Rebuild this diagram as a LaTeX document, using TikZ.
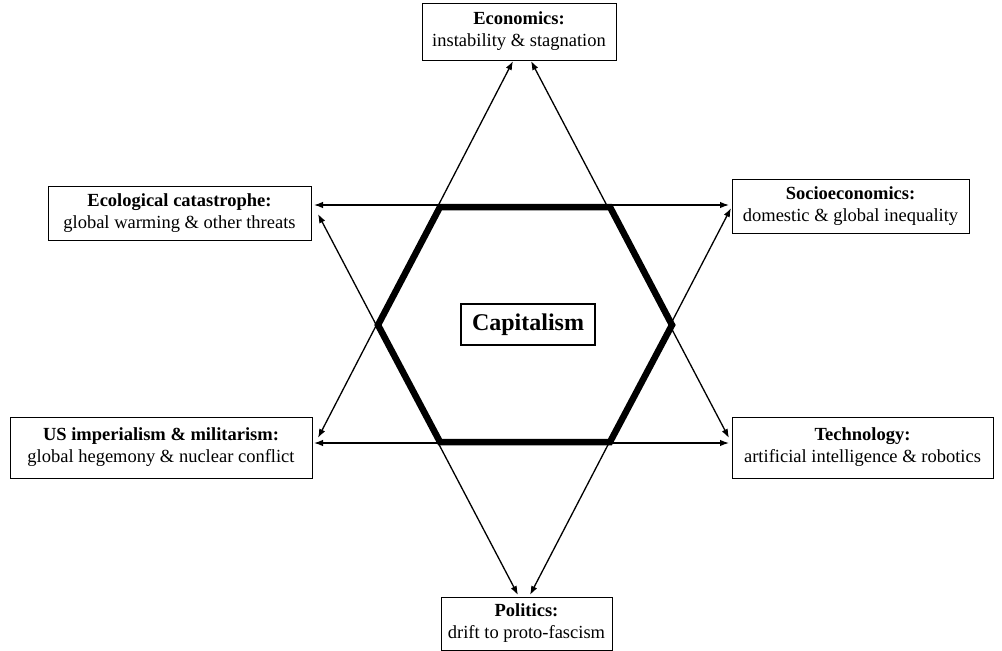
\documentclass[tikz,border=0pt]{standalone}
\usepackage{fontspec}
\setmainfont{Liberation Serif}
\usepackage{tikz}
\usetikzlibrary{arrows.meta}

\begin{document}
\begin{tikzpicture}[x=1pt,y=-1pt]
\tikzset{theme/.style = {shape=rectangle,draw,line width=0.8pt,align=center,inner sep=0pt,font=\fontsize{18.5}{22}\selectfont}}
\tikzset{link/.style = {line width=1.3pt, {Latex[length=9pt,width=6.5pt]}-{Latex[length=9pt,width=6.5pt]}}}
\useasboundingbox (0,0) rectangle (1002,651);
% hexagon
\coordinate (hTL) at (440,207);
\coordinate (hTR) at (610,207);
\coordinate (hR) at (672,325);
\coordinate (hBR) at (610,442);
\coordinate (hBL) at (440,442);
\coordinate (hL) at (378,325);
\draw[line width=6.5pt, line join=miter] (hTL) -- (hTR) -- (hR) -- (hBR) -- (hBL) -- (hL) -- cycle;
\node[draw, line width=2.8pt, minimum width=134pt, minimum height=41pt, inner sep=0pt, font=\fontsize{24}{28}\selectfont\bfseries] (cap) at (528,324.5) {Capitalism};
% themes
\node[theme, minimum width=194pt, minimum height=57pt] (econ) at (519,31.5) {\textbf{Economics:}\\instability \& stagnation};
\node[theme, minimum width=263pt, minimum height=54pt] (eco) at (179.5,213) {\textbf{Ecological catastrophe:}\\global warming \& other threats};
\node[theme, minimum width=237pt, minimum height=54pt] (socio) at (850.5,206) {\textbf{Socioeconomics:}\\domestic \& global inequality};
\node[theme, minimum width=302pt, minimum height=61pt] (us) at (161,447.5) {\textbf{US imperialism \& militarism:}\\global hegemony \& nuclear conflict};
\node[theme, minimum width=261pt, minimum height=61pt] (tech) at (862.5,447.5) {\textbf{Technology:}\\artificial intelligence \& robotics};
\node[theme, minimum width=171pt, minimum height=53pt] (pol) at (526.5,623.5) {\textbf{Politics:}\\drift to proto-fascism};
% arrow ends
\coordinate (ecoA) at (314,205);
\coordinate (ecoB) at (318,214);
\coordinate (socioA) at (729,205);
\coordinate (socioB) at (731,208);
\coordinate (usA) at (314,443);
\coordinate (usB) at (318,438);
\coordinate (techA) at (729,443);
\coordinate (techB) at (729,438);
\coordinate (econA) at (513,61);
\coordinate (econB) at (531,61);
\coordinate (polA) at (518,595);
\coordinate (polB) at (530,595);
%edges
\draw[link] (ecoA) to (socioA);
\draw[link] (usA) to (techA);
\draw[link] (usB) to (econA);
\draw[link] (econB) to (techB);
\draw[link] (ecoB) to (polA);
\draw[link] (socioB) to (polB);

\end{tikzpicture}
\end{document}
